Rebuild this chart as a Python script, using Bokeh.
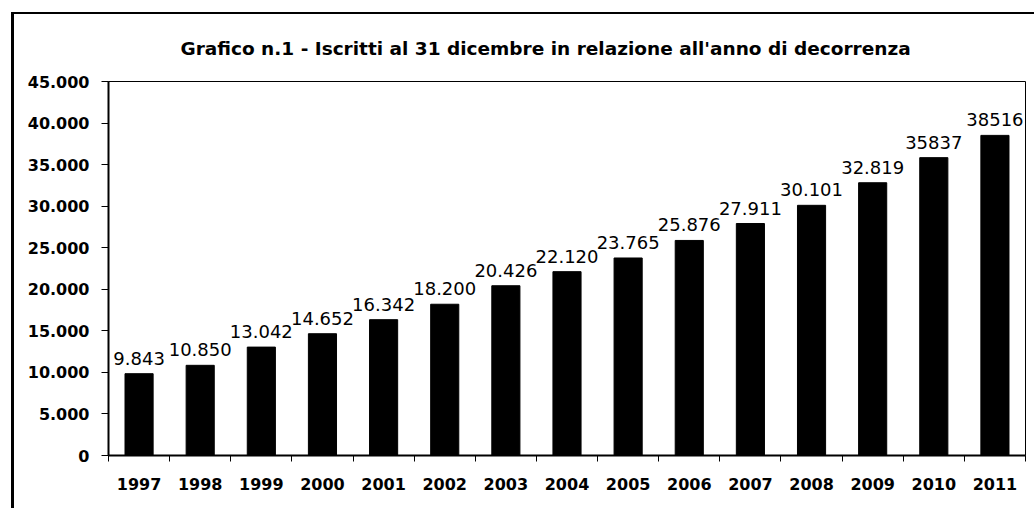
from bokeh.plotting import figure
from bokeh.models import Range1d, FixedTicker, ColumnDataSource, InlineStyleSheet
from bokeh.core.properties import value
from bokeh.embed import file_html
from bokeh.resources import INLINE

years = ["1997", "1998", "1999", "2000", "2001", "2002", "2003", "2004",
         "2005", "2006", "2007", "2008", "2009", "2010", "2011"]
iscritti = [9843, 10850, 13042, 14652, 16342, 18200, 20426, 22120,
            23765, 25876, 27911, 30101, 32819, 35837, 38516]
bar_labels = ["9.843", "10.850", "13.042", "14.652", "16.342", "18.200", "20.426",
              "22.120", "23.765", "25.876", "27.911", "30.101", "32.819", "35837", "38516"]
y_ticks = [0, 5000, 10000, 15000, 20000, 25000, 30000, 35000, 40000, 45000]
y_tick_labels = ["0", "5.000", "10.000", "15.000", "20.000", "25.000",
                 "30.000", "35.000", "40.000", "45.000"]
title_text = "Grafico n.1 - Iscritti al 31 dicembre in relazione all'anno di decorrenza"

FONT = "DejaVu Sans"
n = len(years)
xs = list(range(n))

p = figure(width=1026, height=500, output_backend="svg", toolbar_location=None,
           x_range=Range1d(-0.5, n - 0.5), y_range=Range1d(0, y_ticks[-1]),
           min_border_left=108, min_border_right=1, min_border_top=81, min_border_bottom=45)

p.title.text = title_text
p.title.align = "left"
p.title.offset = 72
p.title.text_font = FONT
p.title.text_font_style = "bold"
p.title.text_font_size = "18.5px"
p.title.text_color = "black"
p.title.standoff = 46

src = ColumnDataSource(dict(x=xs, y=iscritti, lab=bar_labels))
p.vbar(x="x", top="y", width=0.46, bottom=0, source=src, fill_color="black", line_color="black")
p.text(x="x", y="y", text="lab", source=src, text_align="center", text_baseline="bottom",
       y_offset=-9, text_font=value(FONT), text_font_size="18px", text_color="black")

p.xgrid.visible = False
p.ygrid.visible = False
p.outline_line_color = "black"
p.outline_line_width = 1

xa = p.xaxis[0]
xa.ticker = FixedTicker(ticks=xs, minor_ticks=[i - 0.5 for i in range(n + 1)])
xa.major_label_overrides = {i: y for i, y in enumerate(years)}
xa.major_tick_line_color = None
xa.major_tick_out = 0
xa.major_tick_in = 0
xa.minor_tick_out = 6
xa.minor_tick_in = 0
xa.minor_tick_line_color = "black"
xa.axis_line_color = "black"
xa.axis_line_width = 2
xa.major_label_standoff = 16
xa.major_label_text_font = FONT
xa.major_label_text_font_style = "bold"
xa.major_label_text_font_size = "16px"
xa.major_label_text_color = "black"

ya = p.yaxis[0]
ya.ticker = FixedTicker(ticks=y_ticks, minor_ticks=[])
ya.major_label_overrides = {t: l for t, l in zip(y_ticks, y_tick_labels)}
ya.major_tick_out = 7
ya.major_tick_in = 0
ya.major_tick_line_color = "black"
ya.axis_line_color = "black"
ya.axis_line_width = 2
ya.major_label_standoff = 12
ya.major_label_text_font = FONT
ya.major_label_text_font_style = "bold"
ya.major_label_text_font_size = "16px"
ya.major_label_text_color = "black"

p.stylesheets = [InlineStyleSheet(css="""
:host { position: relative; }
:host::after {
  content: "";
  position: absolute;
  left: 11px; top: 12px;
  width: 1030px; height: 600px;
  border-left: 3px solid black;
  border-top: 2px solid black;
  pointer-events: none;
  box-sizing: border-box;
}
""")]

open("out.html", "w").write(file_html(p, INLINE))
